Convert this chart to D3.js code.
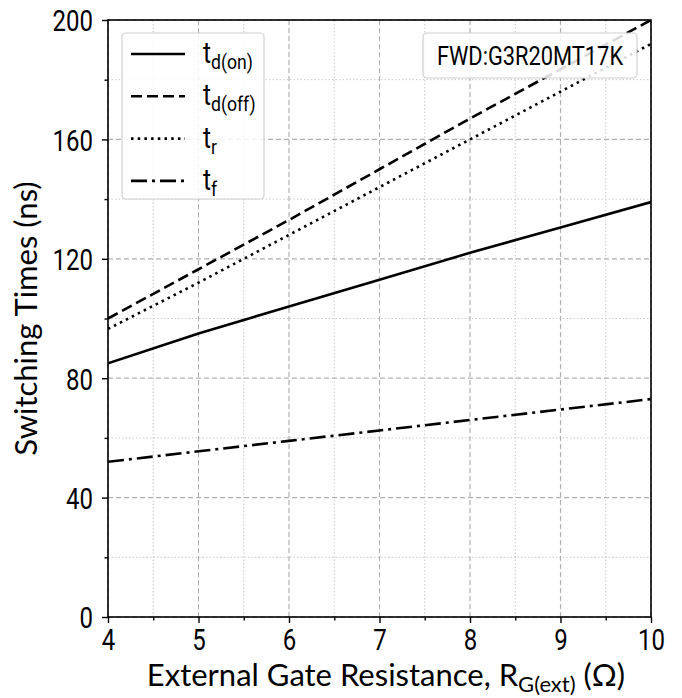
<!DOCTYPE html>
<html><head><meta charset="utf-8">
<script src="https://cdn.jsdelivr.net/npm/d3@7"></script>
<style>body{margin:0;background:#fff}svg{display:block}</style>
</head><body><div id="chart"></div>
<script>
const rg = [4, 5, 6, 7, 8, 9, 10];
const tdOn  = [85, 95, 104, 113, 122, 130.5, 139];
const tdOff = [100, 116.5, 133, 150, 167, 183.5, 200];
const tr    = [96.5, 112, 128, 144, 160, 176, 192];
const tf    = [52, 55.5, 59, 62.5, 66, 69.5, 73];
const xTicks = [4, 5, 6, 7, 8, 9, 10];
const yTicks = [0, 40, 80, 120, 160, 200];
const xMinor = [4.5, 5.5, 6.5, 7.5, 8.5, 9.5];
const yMinor = [20, 60, 100, 140, 180];
const seriesNames = [["t","d(on)"],["t","d(off)"],["t","r"],["t","f"]];
const annotation = "FWD:G3R20MT17K";

const W = 682, H = 698;
const m = {l:108, r:31, t:20, b:81};
const svg = d3.select("#chart").append("svg").attr("width", W).attr("height", H);
const x = d3.scaleLinear().domain([4,10]).range([m.l, W-m.r]);
const y = d3.scaleLinear().domain([0,200]).range([H-m.b, m.t]);
const tickFont = "Roboto, sans-serif";
const labFont = "Lato, sans-serif";
const SX = 0.8;

const g = svg.append("g");
g.selectAll(".vmin").data(xMinor).join("line")
  .attr("x1", d=>x(d)).attr("x2", d=>x(d)).attr("y1", y(0)).attr("y2", y(200))
  .attr("stroke", "#c8c8c8").attr("stroke-width", 1).attr("stroke-dasharray", "1.5,2");
g.selectAll(".hmin").data(yMinor).join("line")
  .attr("y1", d=>y(d)).attr("y2", d=>y(d)).attr("x1", x(4)).attr("x2", x(10))
  .attr("stroke", "#c8c8c8").attr("stroke-width", 1).attr("stroke-dasharray", "1.5,2");
g.selectAll(".vmaj").data(xTicks).join("line")
  .attr("x1", d=>x(d)).attr("x2", d=>x(d)).attr("y1", y(0)).attr("y2", y(200))
  .attr("stroke", "#b0b0b0").attr("stroke-width", 1.2).attr("stroke-dasharray", "5,3");
g.selectAll(".hmaj").data(yTicks).join("line")
  .attr("y1", d=>y(d)).attr("y2", d=>y(d)).attr("x1", x(4)).attr("x2", x(10))
  .attr("stroke", "#b0b0b0").attr("stroke-width", 1.2).attr("stroke-dasharray", "5,3");

const styles = ["", "11,5", "2.5,4.2", "16,5,3,5"];
const data = [tdOn, tdOff, tr, tf];
const line = d3.line().x((d,i)=>x(rg[i])).y(d=>y(d));
svg.append("clipPath").attr("id","c").append("rect")
  .attr("x", x(4)).attr("y", y(200)).attr("width", x(10)-x(4)).attr("height", y(0)-y(200));
data.forEach((s,i)=>{
  svg.append("path").datum(s).attr("d", line).attr("fill","none")
    .attr("stroke","#000").attr("stroke-width",2.6)
    .attr("stroke-dasharray", styles[i]).attr("clip-path","url(#c)");
});

svg.append("rect").attr("x", x(4)).attr("y", y(200)).attr("width", x(10)-x(4)).attr("height", y(0)-y(200))
  .attr("fill","none").attr("stroke","#000").attr("stroke-width",1.6);

const xAx = svg.append("g").attr("transform",`translate(0,${y(0)})`)
  .call(d3.axisBottom(x).tickValues(xTicks).tickFormat(d3.format("d")).tickSize(6).tickPadding(4));
const xAxMin = svg.append("g").attr("transform",`translate(0,${y(0)})`)
  .call(d3.axisBottom(x).tickValues(xMinor).tickFormat("").tickSize(3.5));
const yAx = svg.append("g").attr("transform",`translate(${x(4)},0)`)
  .call(d3.axisLeft(y).tickValues(yTicks).tickFormat(d3.format("d")).tickSize(6).tickPadding(4));
const yAxMin = svg.append("g").attr("transform",`translate(${x(4)},0)`)
  .call(d3.axisLeft(y).tickValues(yMinor).tickFormat("").tickSize(3.5));
[xAx,xAxMin,yAx,yAxMin].forEach(a=>{
  a.select(".domain").remove();
  a.selectAll(".tick line").attr("stroke","#000").attr("stroke-width",1.4);
  a.selectAll("text").attr("font-family", tickFont).attr("font-size", 30).attr("fill","#000");
});
xAx.selectAll("text").attr("y", 12).attr("dy","0.71em").attr("transform",`scale(${SX},1)`);
yAx.selectAll("text").attr("x", -15/SX).attr("dy","0.36em").attr("transform",`scale(${SX},1)`);

const xl = svg.append("text").attr("x", 386).attr("y", 686)
  .attr("text-anchor","middle").attr("font-family", labFont).attr("font-size", 31).attr("fill","#000");
xl.append("tspan").text("External Gate Resistance, R");
xl.append("tspan").attr("font-size", 22).attr("dy", 6).text("G(ext)");
xl.append("tspan").attr("dy", -6).text(" (Ω)");
svg.append("text").attr("transform",`translate(37,${(y(0)+y(200))/2}) rotate(-90)`)
  .attr("text-anchor","middle").attr("font-family", labFont).attr("font-size", 31).attr("fill","#000")
  .text("Switching Times (ns)");

const lg = svg.append("g");
lg.append("rect").attr("x",122).attr("y",33).attr("width",142).attr("height",166).attr("rx",4)
  .attr("fill","rgba(255,255,255,0.85)").attr("stroke","#d0d0d0").attr("stroke-width",1.2);
const LSX = 0.84;
seriesNames.forEach((n,i)=>{
  const yy = 54 + i*42.3;
  lg.append("line").attr("x1",131).attr("x2",185).attr("y1",yy).attr("y2",yy)
    .attr("stroke","#000").attr("stroke-width",2.6).attr("stroke-dasharray", styles[i]);
  const t = lg.append("text").attr("x",203/LSX).attr("y",yy+9).attr("font-family",tickFont)
    .attr("font-size",29).attr("fill","#000").attr("transform",`scale(${LSX},1)`);
  t.append("tspan").text(n[0]);
  t.append("tspan").attr("font-size",21).attr("dy",6).text(n[1]);
});

svg.append("rect").attr("x",423).attr("y",33).attr("width",214).attr("height",45).attr("rx",4)
  .attr("fill","rgba(255,255,255,0.85)").attr("stroke","#d0d0d0").attr("stroke-width",1.2);
const ASX = 0.84;
svg.append("text").attr("x",530/ASX).attr("y",65).attr("text-anchor","middle")
  .attr("transform",`scale(${ASX},1)`)
  .attr("font-family",tickFont).attr("font-size",26).attr("fill","#000").text(annotation);
</script></body></html>
